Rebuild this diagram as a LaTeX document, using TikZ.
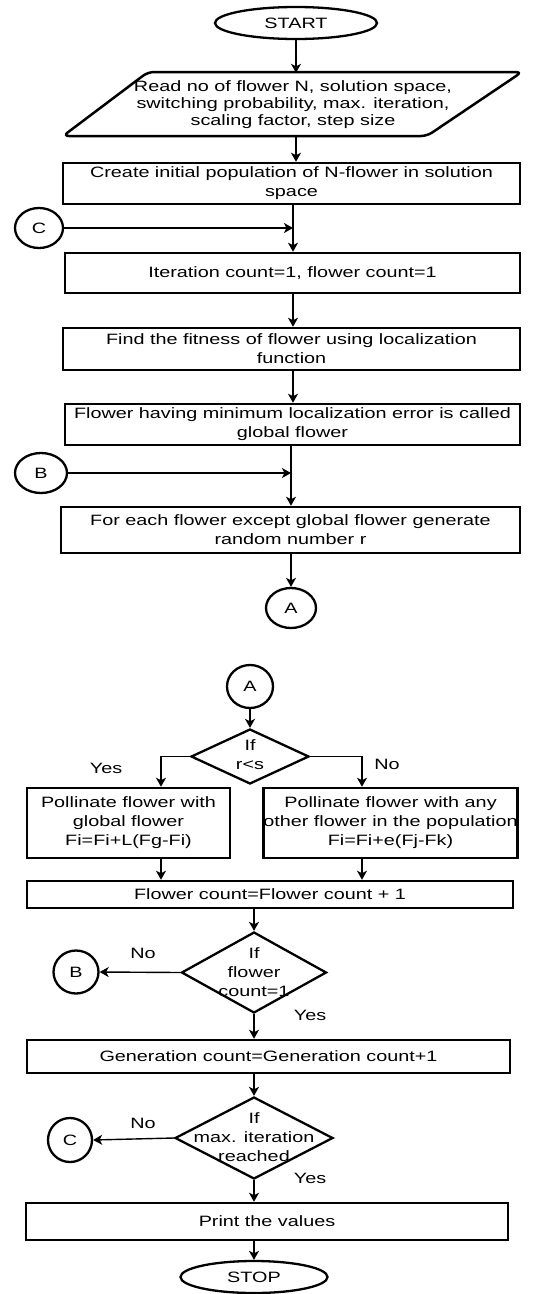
\documentclass[tikz,border=0pt]{standalone}
\usepackage{fontspec}
\setmainfont{Liberation Sans}[FakeStretch=1.32]
\usetikzlibrary{arrows.meta,shapes.geometric,calc}
\tikzset{
  proc/.style={draw, line width=2.5pt, rectangle, inner sep=0pt, align=center},
  term/.style={draw, line width=2.3pt, ellipse, inner sep=0pt},
  conn/.style={draw, line width=2.3pt, ellipse, inner sep=0pt},
  dec/.style={draw, line width=2.3pt, diamond, inner sep=0pt},
  txt/.style={align=center, inner sep=0pt},
  arr/.style={line width=1.4pt, -{Stealth[length=9pt,width=10pt,inset=2.5pt]}},
  ln/.style={line width=1.4pt}
}
\begin{document}
\begin{tikzpicture}[x=1pt, y=-1pt, font=\fontsize{15}{19}\selectfont]
\useasboundingbox (0,0) rectangle (539,1294);
% ---------- upper part ----------
\node[term, minimum width=162pt, minimum height=32pt] (start) at (296,23) {START};
\node[txt, minimum width=369pt, minimum height=64pt, font=\fontsize{15}{17}\selectfont] (read) at (293,105) {Read no of flower N, solution space,\\switching probability, max. iteration,\\scaling factor, step size};
\draw[line width=2.5pt, rounded corners=6pt] (148,72) -- (522,72) -- (427,136) -- (63,136) -- cycle;
\node[proc, minimum width=457pt, minimum height=41pt] (create) at (291.5,183.5) {Create initial population of N-flower in solution\\space};
\node[conn, minimum width=48pt, minimum height=40pt] (C1) at (39,228) {C};
\coordinate (j1) at (293,228);
\node[proc, minimum width=455pt, minimum height=40pt] (iter) at (292.5,273) {Iteration count=1, flower count=1};
\node[proc, minimum width=457pt, minimum height=42pt] (fit) at (291.5,349) {Find the fitness of flower using localization\\function};
\node[proc, minimum width=455pt, minimum height=41pt] (glob) at (292.5,424.5) {Flower having minimum localization error is called\\global flower};
\node[conn, minimum width=52pt, minimum height=40pt] (B1) at (41,473) {B};
\coordinate (j2) at (291,473);
\node[proc, minimum width=459pt, minimum height=46pt] (each) at (290.5,530) {For each flower except global flower generate\\random number r};
\node[conn, minimum width=50pt, minimum height=40pt] (A1) at (291,608) {A};

\draw[arr] (start.south) -- (start.south |- read.north);
\draw[arr] (read.south -| start.south) -- (create.north -| start.south);
\draw[ln] (create.south -| j1) -- (j1);
\draw[arr] (j1) -- (iter.north -| j1);
\draw[arr] (C1.east) -- (j1);
\draw[arr] (iter.south -| j1) -- (fit.north -| j1);
\draw[arr] (fit.south -| j1) -- (glob.north -| j1);
\draw[ln] (glob.south -| j2) -- (j2);
\draw[arr] (j2) -- (each.north -| j2);
\draw[arr] (B1.east) -- (j2);
\draw[arr] (each.south -| A1.north) -- (A1.north);

% ---------- lower part ----------
\node[conn, minimum width=46pt, minimum height=43pt] (A2) at (250,686.5) {A};
\node[dec, minimum width=118pt, minimum height=55pt] (d1) at (250,756.5) {};
\node[txt] (d1t) at (250,755) {If\\r<s};
\node[proc, minimum width=203pt, minimum height=70pt] (pl) at (128.5,823) {Pollinate flower with\\global flower\\Fi=Fi+L(Fg-Fi)};
\node[proc, minimum width=243pt, minimum height=70pt] (pr) at (390.5,823) {Pollinate flower with any\\other flower in the population\\Fi=Fi+e(Fj-Fk)};
\node[txt] (y1) at (106,768) {Yes};
\node[txt] (n1) at (387,764) {No};
\node[proc, minimum width=486pt, minimum height=27pt] (fc) at (270,894.5) {Flower count=Flower count + 1};
\node[dec, minimum width=145pt, minimum height=81pt] (d2) at (254,972.5) {};
\node[txt] (d2t) at (254,972.5) {If\\flower\\count=1};
\node[conn, minimum width=45pt, minimum height=43pt] (B2) at (76,972) {B};
\node[txt] (n2) at (143,953) {No};
\node[txt] (y2) at (310,1015) {Yes};
\node[proc, minimum width=483pt, minimum height=33pt] (gen) at (268.5,1056.5) {Generation count=Generation count+1};
\node[dec, minimum width=158pt, minimum height=82pt] (d3) at (254,1138) {};
\node[txt] (d3t) at (254,1137.5) {If\\max. iteration\\reached};
\node[conn, minimum width=44pt, minimum height=44pt] (C2) at (70,1140) {C};
\node[txt] (n3) at (143,1123) {No};
\node[txt] (y3) at (310,1178) {Yes};
\node[proc, minimum width=482pt, minimum height=37pt] (print) at (267,1221.5) {Print the values};
\node[term, minimum width=147pt, minimum height=32pt] (stop) at (254,1277) {STOP};

\draw[arr] (A2.south) -- (d1.north);
\draw[arr] (d1.west) -| ([xshift=32.5pt]pl.north);
\draw[arr] (d1.east) -| ([xshift=-28.5pt]pr.north);
\draw[arr] ([xshift=32.5pt]pl.south) -- ([xshift=32.5pt]pl.south |- fc.north);
\draw[arr] ([xshift=-28.5pt]pr.south) -- ([xshift=-28.5pt]pr.south |- fc.north);
\draw[arr] (fc.south -| d2.north) -- (d2.north);
\draw[arr] (d2.west) -- (B2.east);
\draw[arr] (d2.south) -- (d2.south |- gen.north);
\draw[arr] (gen.south -| d3.north) -- (d3.north);
\draw[arr] (d3.west) -- (C2.east);
\draw[arr] (d3.south) -- (d3.south |- print.north);
\draw[arr] (print.south -| stop.north) -- (stop.north);
\end{tikzpicture}
\end{document}
